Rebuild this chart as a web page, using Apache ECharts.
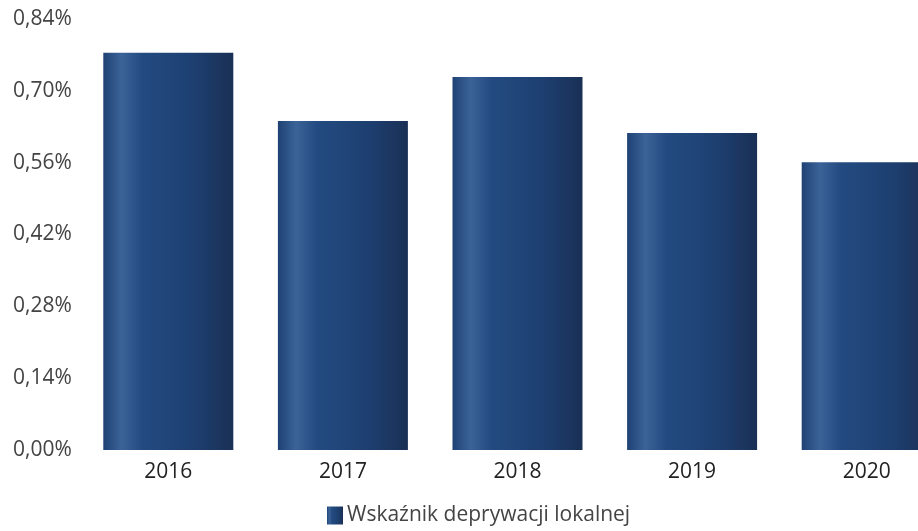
<!DOCTYPE html>
<html>
<head>
<meta charset="utf-8">
<script src="https://cdn.jsdelivr.net/npm/echarts@6/dist/echarts.min.js"></script>
<style>
html,body{margin:0;padding:0;background:#fff;overflow:hidden;width:918px;height:531px;}
#chart{width:954px;height:531px;}
</style>
</head>
<body>
<div id="chart"></div>
<script>
const categories = ['2016','2017','2018','2019','2020'];
const seriesName = 'Wskaźnik deprywacji lokalnej';
const values = [0.774, 0.641, 0.727, 0.618, 0.561];
const yTicks = [0, 0.14, 0.28, 0.42, 0.56, 0.70, 0.84];

const chart = echarts.init(document.getElementById('chart'));
const barColor = new echarts.graphic.LinearGradient(0, 0, 1, 0, [
  {offset: 0, color: '#1f4274'},
  {offset: 0.14, color: '#3b6398'},
  {offset: 0.3, color: '#234b81'},
  {offset: 0.7, color: '#1d3f70'},
  {offset: 1, color: '#1a3055'}
]);
chart.setOption({
  animation: false,
  textStyle: {fontFamily: 'Open Sans'},
  grid: {left: 81, right: 0, top: 19, bottom: 81, containLabel: false},
  legend: {
    data: [seriesName],
    left: 322, top: 500,
    itemWidth: 16, itemHeight: 18, itemGap: 4,
    icon: 'rect',
    textStyle: {fontSize: 21, color: '#444', fontFamily: 'Open Sans', padding: [0,0,0,-1]}
  },
  xAxis: {
    type: 'category',
    data: categories,
    axisLine: {show: false},
    axisTick: {show: false},
    axisLabel: {fontSize: 21, color: '#222', margin: 12}
  },
  yAxis: {
    type: 'value',
    min: yTicks[0], max: yTicks[yTicks.length-1], interval: 0.14,
    axisLine: {show: false},
    axisTick: {show: false},
    splitLine: {show: false},
    axisLabel: {
      fontSize: 21, color: '#444', align: 'left', margin: 68,
      formatter: v => v.toFixed(2).replace('.', ',') + '%'
    }
  },
  series: [{
    name: seriesName,
    type: 'bar',
    data: values,
    barWidth: 130,
    itemStyle: {color: barColor}
  }]
});
</script>
</body>
</html>
